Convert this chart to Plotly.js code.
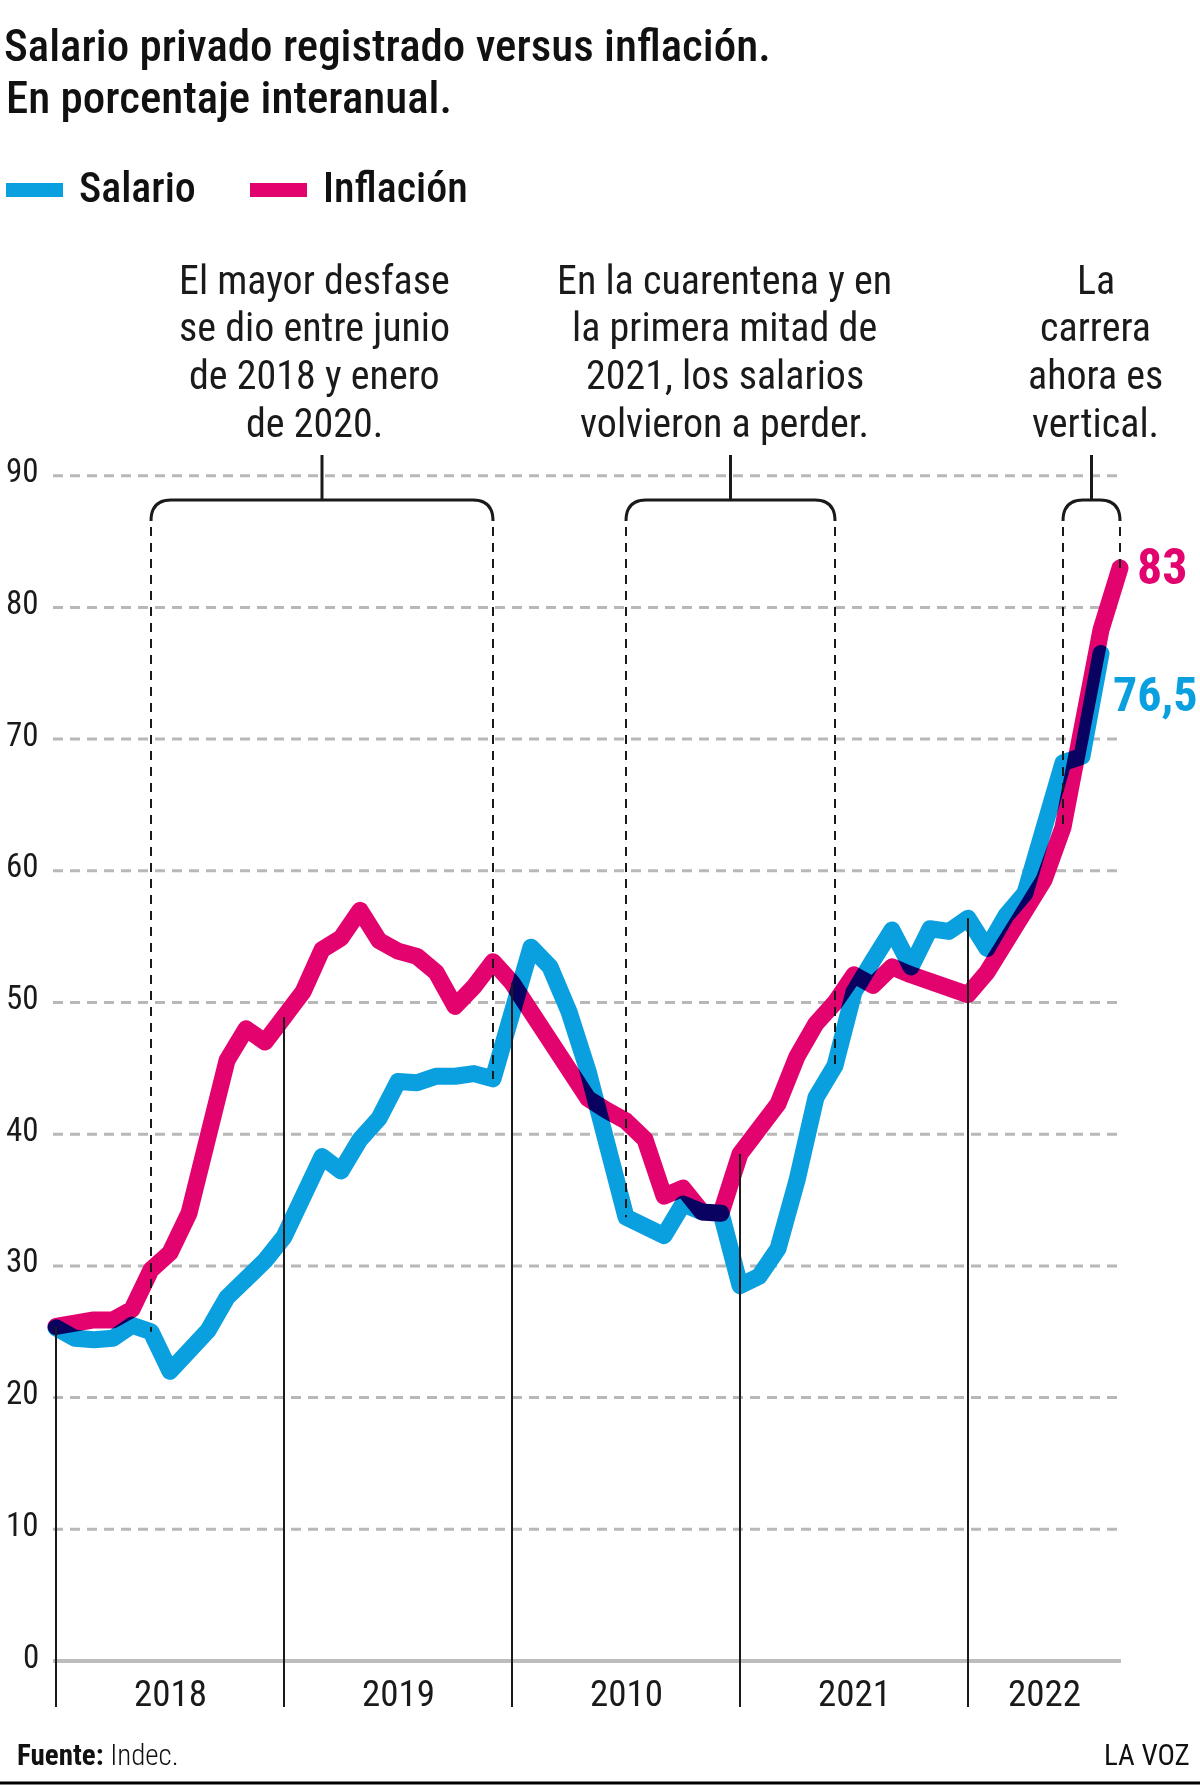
<!DOCTYPE html>
<html>
<head>
<meta charset="utf-8">
<script src="https://cdn.plot.ly/plotly-3.0.1.min.js"></script>
<style>
  html, body { margin: 0; padding: 0; background: #fff; }
  #chart { width: 1200px; height: 1785px; }
  /* the two series darken where they cross */
  #chart .scatterlayer { isolation: isolate; }
  #chart .scatterlayer .trace { mix-blend-mode: multiply; }
  #chart .scatterlayer .js-line { stroke-linejoin: round; stroke-linecap: round; }
</style>
</head>
<body>
<div id="chart"></div>
<script>
// Monthly year-on-year change, January 2018 to September 2022
const meses = [
  '2018-01','2018-02','2018-03','2018-04','2018-05','2018-06','2018-07','2018-08','2018-09','2018-10','2018-11','2018-12',
  '2019-01','2019-02','2019-03','2019-04','2019-05','2019-06','2019-07','2019-08','2019-09','2019-10','2019-11','2019-12',
  '2020-01','2020-02','2020-03','2020-04','2020-05','2020-06','2020-07','2020-08','2020-09','2020-10','2020-11','2020-12',
  '2021-01','2021-02','2021-03','2021-04','2021-05','2021-06','2021-07','2021-08','2021-09','2021-10','2021-11','2021-12',
  '2022-01','2022-02','2022-03','2022-04','2022-05','2022-06','2022-07','2022-08','2022-09'
];

// Registered private-sector wages (%), up to August 2022
const salario = [
  25.3, 24.5, 24.4, 24.5, 25.5, 25.0, 22.0, 23.6, 25.1, 27.6, 28.8, 30.4,
  32.2, 35.0, 38.3, 37.2, 39.6, 41.2, 44.0, 43.9, 44.4, 44.4, 44.6, 44.2,
  49.2, 54.2, 52.7, 49.3, 44.8, 39.2, 33.7, 33.0, 32.3, 34.7, 34.1, 34.0,
  28.5, 29.2, 31.3, 36.5, 42.8, 45.2, 50.8, 53.2, 55.5, 52.7, 55.6, 55.4,
  56.4, 54.1, 56.6, 58.3, 62.9, 68.2, 68.7, 76.5
];

// Consumer price inflation (%)
const inflacion = [
  25.4, 25.8, 25.9, 25.9, 26.7, 29.7, 31.0, 34.0, 39.8, 45.6, 48.0, 47.0,
  48.9, 50.8, 54.0, 54.9, 57.0, 54.7, 53.9, 53.5, 52.3, 49.7, 51.2, 53.1,
  51.5, 49.4, 47.4, 44.9, 42.7, 41.8, 41.0, 39.6, 35.3, 35.9, 34.1, 34.0,
  38.5, 40.4, 42.3, 45.9, 48.4, 50.0, 52.1, 51.3, 52.7, 52.1, 51.5, 51.1,
  50.6, 52.3, 54.6, 57.0, 59.3, 63.3, 70.5, 78.3, 83.0
];

const yTicks = [0, 10, 20, 30, 40, 50, 60, 70, 80, 90];
const etiquetasAnio = ['2018', '2019', '2010', '2021', '2022'];

const notas = [
  ['El mayor desfase', 'se dio entre junio', 'de 2018 y enero', 'de 2020.'],
  ['En la cuarentena y en', 'la primera mitad de', '2021, los salarios', 'volvieron a perder.'],
  ['La', 'carrera', 'ahora es', 'vertical.']
];
// first and last month index covered by each note
const tramos = [[5, 23], [30, 41], [53, 56]];

// ---- page geometry (pixels) ----
const W = 1200, H = 1785;
const X0 = 56, PX_MES = 19;         // pixel of first month, pixels per month
const Y0 = 1661, PX_UNIDAD = 13.17; // pixel of value 0, pixels per unit
const xPix = p => (p - X0) / PX_MES;      // pixel column -> month index
const yPix = p => (Y0 - p) / PX_UNIDAD;   // pixel row -> value
const px = p => p / W, py = p => 1 - p / H;

const AZUL = '#0a9fdf', ROSA = '#e3036f', NEGRO = '#1a1a1a';
const FONT = 'Roboto Condensed, Roboto, sans-serif';
const notaDx = [-8, -6, 4];

const xs = meses.map((_, i) => i);
const nMes = meses.length;
const valAt = (arr, i) => (i < arr.length ? arr[i] : null);
const presentes = i => [valAt(salario, i), valAt(inflacion, i)].filter(v => v !== null);
const topAt = i => Math.max(...presentes(i));
const lowAt = i => Math.min(...presentes(i));

const traces = [
  { x: xs.slice(0, inflacion.length), y: inflacion, name: 'Inflación', type: 'scatter', mode: 'lines',
    line: { color: ROSA, width: 17 }, hoverinfo: 'skip' },
  { x: xs.slice(0, salario.length), y: salario, name: 'Salario', type: 'scatter', mode: 'lines',
    line: { color: AZUL, width: 17 }, hoverinfo: 'skip' }
];

const shapes = [];
const annotations = [];
const xLeftGrid = xPix(53), xRightGrid = nMes - 1 + 0.05;

// dashed horizontal grid and value labels
yTicks.forEach(v => {
  if (v === 0) {
    shapes.push({ type: 'line', xref: 'x', yref: 'y', x0: xLeftGrid, x1: xRightGrid, y0: 0, y1: 0,
      line: { color: '#bdbdbd', width: 4 }, layer: 'below' });
  } else {
    shapes.push({ type: 'line', xref: 'x', yref: 'y', x0: xLeftGrid, x1: xRightGrid, y0: v, y1: v,
      line: { color: '#b8b8b8', width: 3, dash: '10px,7px' }, layer: 'below' });
  }
  annotations.push({ xref: 'paper', yref: 'y', x: px(41), y: v, yshift: 5, xanchor: 'right', yanchor: 'middle',
    text: String(v), showarrow: false, font: { family: FONT, size: 33, color: NEGRO } });
});

// year separators and year labels
const inicios = [];
meses.forEach((m, i) => { if (m.endsWith('-01')) inicios.push(i); });
inicios.forEach((i, k) => {
  shapes.push({ type: 'line', xref: 'x', yref: 'y', x0: i, x1: i, y0: yPix(1707), y1: topAt(i),
    line: { color: NEGRO, width: 2 }, layer: 'above' });
  const fin = k + 1 < inicios.length ? inicios[k + 1] : nMes - 1;
  annotations.push({ xref: 'x', yref: 'y', x: (i + fin) / 2, y: yPix(1693), xanchor: 'center', yanchor: 'middle',
    text: etiquetasAnio[k], showarrow: false, font: { family: FONT, size: 37, color: NEGRO } });
});

// brackets with their notes
const yBrace = yPix(500), yFoot = yPix(521), yStem = yPix(455), yDash = yPix(527);
const rx = 20 / PX_MES;
tramos.forEach(([a, b], k) => {
  const c = (a + b) / 2;
  shapes.push({ type: 'path', xref: 'x', yref: 'y',
    path: `M ${a},${yFoot} Q ${a},${yBrace} ${a + rx},${yBrace} L ${b - rx},${yBrace} Q ${b},${yBrace} ${b},${yFoot}`,
    line: { color: NEGRO, width: 3 }, layer: 'above' });
  shapes.push({ type: 'line', xref: 'x', yref: 'y', x0: c, x1: c, y0: yBrace, y1: yStem,
    line: { color: NEGRO, width: 3 }, layer: 'above' });
  [a, b].forEach(i => {
    shapes.push({ type: 'line', xref: 'x', yref: 'y', x0: i, x1: i, y0: yDash, y1: lowAt(i),
      line: { color: NEGRO, width: 2, dash: '9px,7px' }, layer: 'above' });
  });
  notas[k].forEach((linea, j) => {
    annotations.push({ xref: 'x', yref: 'paper', x: c, y: py(280 + 47.7 * j), xshift: notaDx[k],
      xanchor: 'center', yanchor: 'middle', text: linea, showarrow: false,
      font: { family: FONT, size: 40, color: NEGRO } });
  });
});

// end-of-line values
const fmt = v => String(v).replace('.', ',');
const iInf = inflacion.length - 1, iSal = salario.length - 1;
annotations.push({ xref: 'x', yref: 'y', x: iInf, y: inflacion[iInf], xanchor: 'left', yanchor: 'middle',
  xshift: 15, yshift: 1, text: '<b>' + fmt(inflacion[iInf]) + '</b>', showarrow: false,
  font: { family: FONT, size: 50, color: ROSA } });
annotations.push({ xref: 'x', yref: 'y', x: iSal, y: salario[iSal], xanchor: 'left', yanchor: 'middle',
  xshift: 10, yshift: -41, text: '<b>' + fmt(salario[iSal]) + '</b>', showarrow: false,
  font: { family: FONT, size: 48, color: AZUL } });

// second title line
annotations.push({ xref: 'paper', yref: 'paper', x: px(4), y: py(97), xanchor: 'left', yanchor: 'middle',
  text: 'En porcentaje interanual.', showarrow: false,
  font: { family: FONT, size: 45, weight: 500, color: '#111' } });

// legend
[['Salario', AZUL, 6, 77], ['Inflación', ROSA, 250, 321]].forEach(([t, c, s0, t0]) => {
  shapes.push({ type: 'rect', xref: 'paper', yref: 'paper', x0: px(s0), x1: px(s0 + 57), y0: py(183), y1: py(197),
    fillcolor: c, line: { width: 0 } });
  annotations.push({ xref: 'paper', yref: 'paper', x: px(t0), y: py(188), xanchor: 'left', yanchor: 'middle',
    text: t, showarrow: false, font: { family: FONT, size: 42, weight: 500, color: '#111' } });
});

// footer
annotations.push({ xref: 'paper', yref: 'paper', x: px(15), y: py(1755), xanchor: 'left', yanchor: 'middle',
  text: '<b>Fuente:</b> Indec.', showarrow: false, font: { family: FONT, size: 29, weight: 300, color: '#111' } });
annotations.push({ xref: 'paper', yref: 'paper', x: px(1192), y: py(1755), xanchor: 'right', yanchor: 'middle',
  text: 'LA VOZ', showarrow: false, font: { family: FONT, size: 29, color: '#111' } });
shapes.push({ type: 'line', xref: 'paper', yref: 'paper', x0: 0, x1: 1, y0: py(1783), y1: py(1783),
  line: { color: '#000', width: 3 } });

const layout = {
  width: W, height: H,
  margin: { l: 0, r: 0, t: 0, b: 0, pad: 0 },
  paper_bgcolor: '#fff', plot_bgcolor: '#fff',
  showlegend: false,
  title: { text: 'Salario privado registrado versus inflación.', x: px(4), xref: 'paper', xanchor: 'left',
    y: py(45), yref: 'container', yanchor: 'middle',
    font: { family: FONT, size: 45, weight: 500, color: '#111' } },
  xaxis: { range: [xPix(0), xPix(W)], visible: false, fixedrange: true },
  yaxis: { range: [yPix(H), yPix(0)], visible: false, fixedrange: true },
  shapes: shapes,
  annotations: annotations
};

Plotly.newPlot('chart', traces, layout, { staticPlot: true, displayModeBar: false });
</script>
</body>
</html>
